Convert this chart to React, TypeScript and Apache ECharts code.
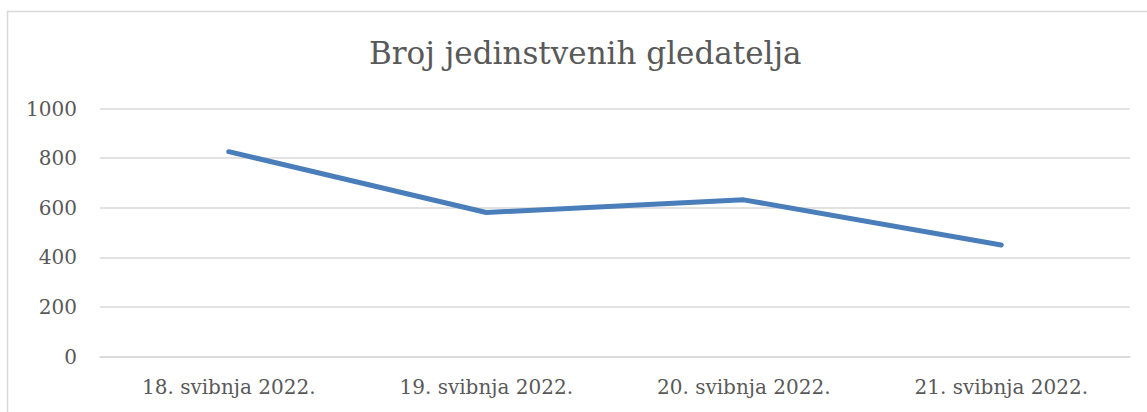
import React, { useEffect, useRef } from "react";
import * as echarts from "echarts";

const categories = ["18. svibnja 2022.", "19. svibnja 2022.", "20. svibnja 2022.", "21. svibnja 2022."];
const viewers = [826, 581, 632, 450];
const yTicks = [0, 200, 400, 600, 800, 1000];
const title = "Broj jedinstvenih gledatelja";

export default function App() {
  const ref = useRef<HTMLDivElement>(null);
  useEffect(() => {
    if (!ref.current) return;
    const chart = echarts.init(ref.current, null, { renderer: "svg" });
    const font = "'DejaVu Serif', 'Liberation Serif', serif";
    chart.setOption({
      animation: false,
      backgroundColor: "#ffffff",
      title: {
        text: title,
        left: 364,
        top: 32,
        textStyle: { fontFamily: font, fontSize: 31, fontWeight: "normal", color: "#595959" },
      },
      graphic: [
        {
          type: "rect",
          shape: { x: 7.5, y: 11.5, width: 1200, height: 500 },
          style: { fill: "none", stroke: "#d9d9d9", lineWidth: 1.5 },
          silent: true,
        },
      ],
      grid: { left: 100, right: 17, top: 108.5, bottom: 55.3 },
      xAxis: {
        type: "category",
        data: categories,
        boundaryGap: true,
        axisLine: { show: true, lineStyle: { color: "#d9d9d9", width: 1.5 } },
        axisTick: { show: false },
        axisLabel: { fontFamily: font, fontSize: 20, color: "#595959", margin: 20 },
      },
      yAxis: {
        type: "value",
        min: yTicks[0],
        max: yTicks[yTicks.length - 1],
        interval: 200,
        axisLine: { show: false },
        axisTick: { show: false },
        splitLine: { lineStyle: { color: "#d9d9d9", width: 1.5 } },
        axisLabel: {
          fontFamily: font,
          fontSize: 20,
          color: "#595959",
          margin: 23,
          formatter: (v: number) => String(v),
        },
      },
      series: [
        {
          type: "line",
          data: viewers,
          symbol: "none",
          lineStyle: { color: "#4a7ebb", width: 5, cap: "round", join: "round" },
        },
      ],
    });
    return () => chart.dispose();
  }, []);
  return (
    <div
      ref={ref}
      style={{ position: "absolute", left: 0, top: 0, width: 1147, height: 412 }}
    />
  );
}
